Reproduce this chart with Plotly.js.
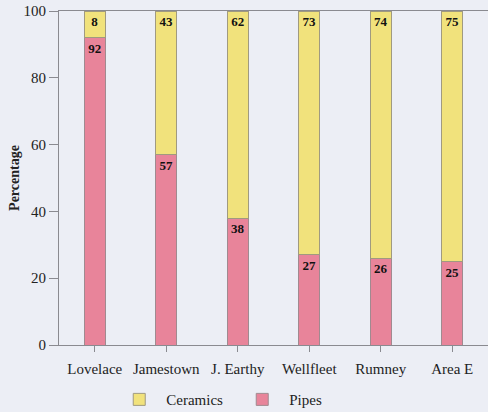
<!DOCTYPE html>
<html><head><meta charset="utf-8">
<script src="https://cdn.plot.ly/plotly-3.0.1.min.js"></script>
<style>html,body{margin:0;padding:0;background:#eceef5;}</style>
</head><body>
<div id="chart" style="width:488px;height:412px;"></div>
<script>
const sites = ["Lovelace", "Jamestown", "J. Earthy", "Wellfleet", "Rumney", "Area E"];
const pipes = [92, 57, 38, 27, 26, 25];
const ceramics = [8, 43, 62, 73, 74, 75];
const yTicks = [0, 20, 40, 60, 80, 100];

const serif = "Liberation Serif, Times New Roman, serif";
const common = {
  type: "bar", x: sites, width: 0.3,
  texttemplate: "<b>%{y}</b>", textposition: "inside", insidetextanchor: "end",
  textfont: {family: serif, size: 13, color: "#111"}, constraintext: "none",
  hoverinfo: "skip"
};
const traces = [
  Object.assign({}, common, {name: "Pipes", y: pipes, marker: {color: "#e8849a", line: {color: "#a08a90", width: 1}}}),
  Object.assign({}, common, {name: "Ceramics", y: ceramics, marker: {color: "#f1e27c", line: {color: "#a09a80", width: 1}}})
];
const layout = {
  width: 488, height: 412,
  margin: {l: 59, r: 0, t: 11, b: 67},
  paper_bgcolor: "#eceef5", plot_bgcolor: "#eceef5",
  barmode: "stack", showlegend: true,
  font: {family: serif, size: 15, color: "#222"},
  xaxis: {range: [-0.5, 5.5], showline: true, mirror: true, linecolor: "#8a8a90", linewidth: 1,
          ticks: "outside", ticklen: 6, tickcolor: "#8a8a90", showgrid: false, zeroline: false,
          ticklabelstandoff: 4, automargin: false,
          tickfont: {family: serif, size: 15, color: "#222"}},
  yaxis: {range: [0, 100], tickvals: yTicks, showline: true, linecolor: "#8a8a90", linewidth: 1,
          ticks: "outside", ticklen: 9, tickcolor: "#8a8a90", showgrid: false, zeroline: false,
          automargin: false,
          tickfont: {family: serif, size: 15, color: "#222"},
          title: {text: "<b>Percentage</b>", font: {family: serif, size: 14, color: "#222"}, standoff: 0}},
  legend: {orientation: "h", traceorder: "reversed", xref: "container", yref: "container",
           x: 0.23, xanchor: "left", y: 0.03, yanchor: "middle",
           font: {family: serif, size: 15, color: "#222"}, itemwidth: 44, entrywidth: 64,
           bgcolor: "rgba(0,0,0,0)"}
};
Plotly.newPlot("chart", traces, layout, {displayModeBar: false, staticPlot: true});
</script>
</body></html>
